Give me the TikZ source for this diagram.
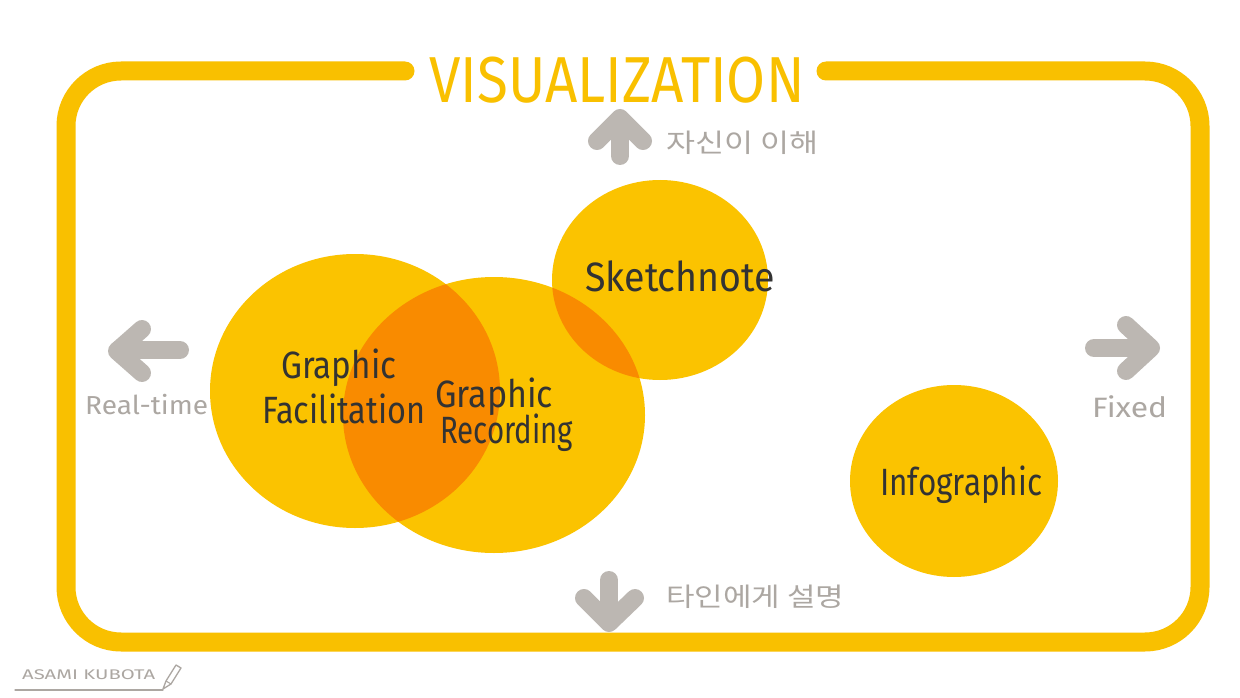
\documentclass[tikz,border=0pt]{standalone}
\usepackage{fontspec}
\setmainfont{Fira Sans}
\newfontfamily\kr{Noto Sans CJK KR}
\definecolor{sun}{HTML}{FBC300}
\definecolor{frameyel}{HTML}{F9C000}
\definecolor{overlap}{HTML}{F98B00}
\definecolor{arrgray}{HTML}{BCB7B2}
\definecolor{txtgray}{HTML}{ACA7A2}
\definecolor{ink}{HTML}{333333}
% scale text to a given width, keeping its natural height
\newcommand{\wfit}[2]{\resizebox{#1pt}{\height}{#2}}
\tikzset{
  frameline/.style={draw=frameyel, line width=19pt, line cap=round, line join=round},
  grayarrow/.style={draw=arrgray, line width=18pt, line cap=round, line join=round},
  label/.style={inner sep=0pt, anchor=base west, text=ink, font=\fontsize{38}{40}\selectfont},
  axis/.style={inner sep=0pt, anchor=base west, text=txtgray},
}
\begin{document}
\begin{tikzpicture}[x=1pt,y=-1pt]
\useasboundingbox (0,0) rectangle (1240,698);
\fill[white] (0,0) rectangle (1240,698);

% outer frame with a gap for the title
\draw[frameline, rounded corners=55pt] (405,71) -- (66,71) -- (66,642) -- (1200,642) -- (1200,71) -- (826,71);
\node[inner sep=0pt, text=frameyel, font=\fontsize{65}{66}\selectfont] (title) at (617,80) {\wfit{375}{VISUALIZATION}};

% circles
\fill[sun] (355,391) ellipse [x radius=145, y radius=137];
\fill[sun] (494,415) ellipse [x radius=151, y radius=138];
\fill[sun] (660,280) ellipse [x radius=108, y radius=100];
\fill[sun] (954,481) ellipse [x radius=104, y radius=96];

% overlaps
\begin{scope}
  \clip (355,391) ellipse [x radius=145, y radius=137];
  \fill[overlap] (494,415) ellipse [x radius=151, y radius=138];
\end{scope}
\begin{scope}
  \clip (494,415) ellipse [x radius=151, y radius=138];
  \fill[overlap] (660,280) ellipse [x radius=108, y radius=100];
\end{scope}

% circle labels
\node[label] (gf1) at (281,378) {\wfit{115}{Graphic}};
\node[label] (gf2) at (262,423) {\wfit{163}{Facilitation}};
\node[label] (gr1) at (435,407) {\wfit{118}{Graphic}};
\node[label] (gr2) at (440,443) {\wfit{133}{Recording}};
\node[label, font=\fontsize{41}{43}\selectfont] (sk) at (585,291) {\wfit{190}{Sketchnote}};
\node[label] (ig) at (880,495) {\wfit{162}{Infographic}};

% direction arrows
\draw[grayarrow] (620,156) -- (620,119);
\draw[grayarrow] (597,141) -- (620,118) -- (643,141);
\draw[grayarrow] (609,580) -- (609,622);
\draw[grayarrow] (584,598) -- (609,623) -- (635,598);
\draw[grayarrow] (180,350) -- (118,350);
\draw[grayarrow] (142,329) -- (117,351) -- (142,373);
\draw[grayarrow] (1094,348) -- (1150,348);
\draw[grayarrow] (1126,325) -- (1151,348) -- (1126,371);

% axis labels
\node[axis, anchor=west, font=\kr\fontsize{26}{28}\selectfont] (self) at (666,143) {\wfit{152}{자신이 이해}};
\node[axis, anchor=west, font=\kr\fontsize{26}{28}\selectfont] (others) at (666,597) {\wfit{178}{타인에게 설명}};
\node[axis, font=\fontsize{26}{28}\selectfont] (rt) at (85,414) {\wfit{123}{Real-time}};
\node[axis, font=\fontsize{28}{30}\selectfont] (fx) at (1092,417) {\wfit{75}{Fixed}};

% signature
\node[axis, font=\fontsize{14}{15}\selectfont] (sig) at (22,679) {\wfit{133}{ASAMI KUBOTA}};
\draw[txtgray, line width=1.3pt, line cap=round] (15,690) -- (163,690);
\draw[txtgray, line width=1.3pt, line join=round] (163,689) -- (166,681) -- (176,665) -- (181,668) -- (171,684) -- cycle;
\draw[txtgray, line width=1.1pt] (166,681) -- (171,684);
\end{tikzpicture}
\end{document}
